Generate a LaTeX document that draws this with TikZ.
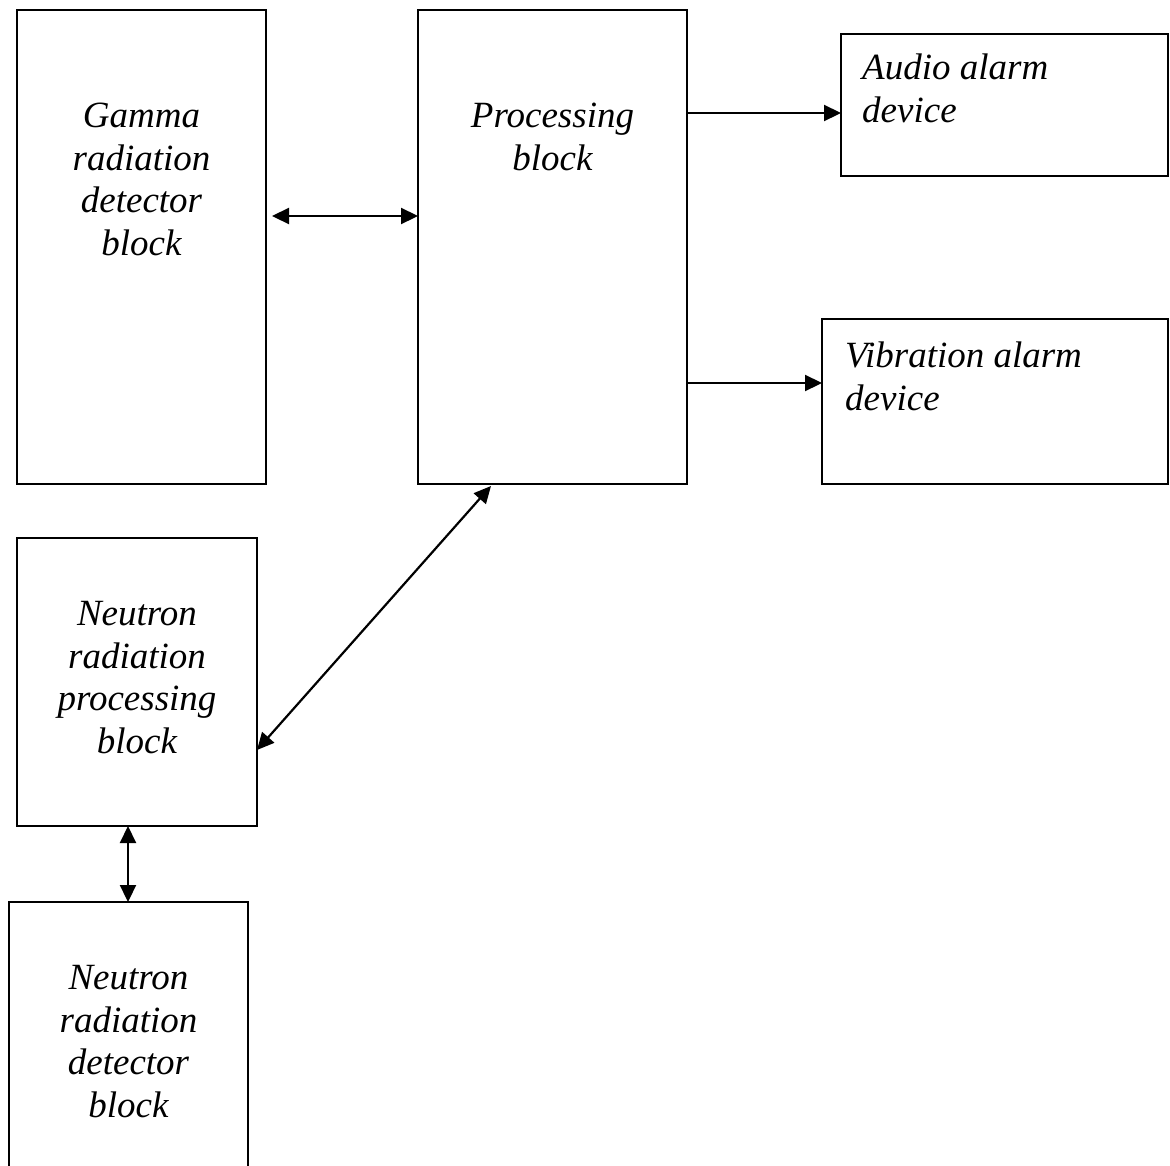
\documentclass[tikz,border=0pt]{standalone}
\usepackage{fontspec}
\setmainfont{Liberation Serif}
\usetikzlibrary{arrows.meta}
\begin{document}
\begin{tikzpicture}[x=1pt,y=-1pt,
  blk/.style={draw=black,line width=2.4pt,fill=none,inner sep=0pt,outer sep=0pt,anchor=north west},
  lbl/.style={font=\fontsize{37}{42.5}\selectfont\itshape,inner sep=0pt,anchor=base},
  lbll/.style={lbl,align=left,anchor=base west},
  lblc/.style={lbl,align=center},
  tip/.style={Triangle[length=17pt,width=16pt]},
  con/.style={line width=2.2pt,-{Triangle[length=17pt,width=16pt]}},
  dbl/.style={line width=2.2pt,{Triangle[length=17pt,width=16pt]}-{Triangle[length=17pt,width=16pt]}}]
\clip (0,0) rectangle (1170,1165);
\fill[white] (0,0) rectangle (1170,1165);
% boxes
\node[blk,minimum width=249pt,minimum height=474pt] (gamma) at (17,10) {};
\node[blk,minimum width=269pt,minimum height=474pt] (proc) at (418,10) {};
\node[blk,minimum width=327pt,minimum height=142pt] (audio) at (841,34) {};
\node[blk,minimum width=346pt,minimum height=165pt] (vib) at (822,319) {};
\node[blk,minimum width=240pt,minimum height=288pt] (np) at (17,538) {};
\node[blk,minimum width=239pt,minimum height=300pt] (nd) at (9,902) {};
% texts (base anchor = baseline of the last line)
\node[lblc] (gammaT) at (141.5,255) {Gamma\\radiation\\detector\\block};
\node[lblc] (procT) at (552.5,170) {Processing\\block};
\node[lbll] (audioT) at (862,122) {Audio alarm\\device};
\node[lbll] (vibT) at (845,410) {Vibration alarm\\device};
\node[lblc] (npT) at (137,753) {Neutron\\radiation\\processing\\block};
\node[lblc] (ndT) at (128.5,1117) {Neutron\\radiation\\detector\\block};
% connectors
\draw[dbl] ([shift={(6pt,31pt)}]gamma.east) -- ([yshift=31pt]proc.west);
\draw[con] ([yshift=134pt]proc.east) -- ([yshift=-8pt]audio.west);
\draw[con] ([yshift=-136pt]proc.east) -- ([yshift=18.5pt]vib.west);
\draw[dbl] ([shift={(-61.5pt,-2pt)}]proc.south) -- ([yshift=-68pt]np.east);
\draw[dbl] ([xshift=-9pt]np.south) -- ([xshift=-0.5pt]nd.north);
\end{tikzpicture}
\end{document}
